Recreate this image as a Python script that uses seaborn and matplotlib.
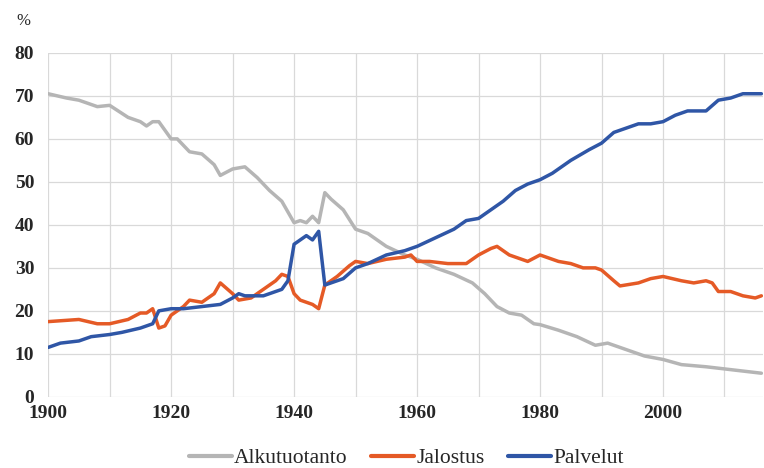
import pandas as pd
import matplotlib.pyplot as plt
import seaborn as sns

# Alkutuotanto (primary production), % share
alku_years = [1900, 1903, 1905, 1908, 1910, 1913, 1915, 1916, 1917, 1918, 1920, 1921, 1923, 1925,
              1927, 1928, 1930, 1932, 1934, 1936, 1938, 1939, 1940, 1941, 1942, 1943, 1944, 1945,
              1946, 1948, 1950, 1952, 1955, 1958, 1960, 1963, 1966, 1969, 1971, 1973, 1975, 1977,
              1979, 1980, 1983, 1986, 1989, 1991, 1994, 1997, 2000, 2003, 2007, 2010, 2013, 2016]
alku_vals = [70.5, 69.5, 69, 67.5, 67.8, 65, 64, 63, 64, 64, 60, 60, 57, 56.5,
             54, 51.5, 53, 53.5, 51, 48, 45.5, 43, 40.5, 41, 40.5, 42, 40.5, 47.5,
             46, 43.5, 39, 38, 35, 33, 32, 30, 28.5, 26.5, 24, 21, 19.5, 19,
             17, 16.8, 15.5, 14, 12, 12.5, 11, 9.5, 8.7, 7.5, 7, 6.5, 6, 5.5]

# Jalostus (manufacturing)
jalo_years = [1900, 1905, 1908, 1910, 1913, 1915, 1916, 1917, 1918, 1919, 1920, 1922, 1923, 1925,
              1927, 1928, 1930, 1931, 1933, 1935, 1937, 1938, 1939, 1940, 1941, 1943, 1944, 1945,
              1947, 1949, 1950, 1952, 1955, 1958, 1959, 1960, 1962, 1965, 1968, 1970, 1972, 1973,
              1975, 1977, 1978, 1980, 1983, 1985, 1987, 1989, 1990, 1992, 1993, 1996, 1998, 2000,
              2003, 2005, 2007, 2008, 2009, 2011, 2013, 2015, 2016]
jalo_vals = [17.5, 18, 17, 17, 18, 19.5, 19.5, 20.5, 16, 16.5, 19, 21, 22.5, 22,
             24, 26.5, 24, 22.5, 23, 25, 27, 28.5, 28, 24, 22.5, 21.5, 20.5, 26,
             28, 30.5, 31.5, 31, 32, 32.5, 33, 31.5, 31.5, 31, 31, 33, 34.5, 35,
             33, 32, 31.5, 33, 31.5, 31, 30, 30, 29.5, 27, 25.8, 26.5, 27.5, 28,
             27, 26.5, 27, 26.5, 24.5, 24.5, 23.5, 23, 23.5]

# Palvelut (services)
palv_years = [1900, 1902, 1905, 1907, 1910, 1912, 1915, 1917, 1918, 1920, 1922, 1925, 1928, 1930,
              1931, 1932, 1935, 1938, 1939, 1940, 1941, 1942, 1943, 1944, 1945, 1946, 1948, 1950,
              1952, 1955, 1958, 1960, 1963, 1966, 1968, 1970, 1972, 1974, 1976, 1978, 1980, 1982,
              1985, 1988, 1990, 1992, 1994, 1996, 1998, 2000, 2002, 2004, 2007, 2009, 2011, 2013, 2016]
palv_vals = [11.5, 12.5, 13, 14, 14.5, 15, 16, 17, 20, 20.5, 20.5, 21, 21.5, 23,
             24, 23.5, 23.5, 25, 27, 35.5, 36.5, 37.5, 36.5, 38.5, 26, 26.5, 27.5, 30,
             31, 33, 34, 35, 37, 39, 41, 41.5, 43.5, 45.5, 48, 49.5, 50.5, 52,
             55, 57.5, 59, 61.5, 62.5, 63.5, 63.5, 64, 65.5, 66.5, 66.5, 69, 69.5, 70.5, 70.5]

series = ["Alkutuotanto", "Jalostus", "Palvelut"]
colors = ["#b5b5b5", "#e55a26", "#2f56a6"]

df = pd.concat([
    pd.DataFrame({"Vuosi": alku_years, "Osuus": alku_vals, "Sektori": series[0]}),
    pd.DataFrame({"Vuosi": jalo_years, "Osuus": jalo_vals, "Sektori": series[1]}),
    pd.DataFrame({"Vuosi": palv_years, "Osuus": palv_vals, "Sektori": series[2]}),
])

sns.set_style("white")
plt.rcParams["font.family"] = ["Liberation Serif", "DejaVu Serif"]

fig = plt.figure(figsize=(7.64, 4.68), dpi=100)
ax = fig.add_axes([0.063, 0.152, 0.936, 0.735])

sns.lineplot(data=df, x="Vuosi", y="Osuus", hue="Sektori", hue_order=series,
             palette=colors, linewidth=2.5, ax=ax, legend=False)

ax.set_xlim(1900, 2016.3)
ax.set_ylim(0, 80)
ax.set_xticks(range(1900, 2011, 20))
ax.set_xticks(range(1910, 2011, 20), minor=True)
ax.set_yticks(range(0, 81, 10))
ax.grid(True, which="both", color="#d9d9d9", linewidth=0.9)
ax.set_axisbelow(True)
for s in ax.spines.values():
    s.set_visible(False)
ax.tick_params(axis="y", length=0, labelsize=14, pad=10)
ax.tick_params(axis="x", which="both", length=6, width=0.9, color="#d9d9d9",
               direction="out", labelsize=14, pad=0)
for lbl in ax.get_xticklabels() + ax.get_yticklabels():
    lbl.set_fontweight("bold")
ax.set_xlabel("")
ax.set_ylabel("")

fig.text(0.022, 0.955, "%", fontsize=12, va="center")

handles = [plt.Line2D([], [], color=c, linewidth=3) for c in colors]
fig.legend(handles, series, loc="center", bbox_to_anchor=(0.532, 0.021), ncol=3,
           frameon=False, fontsize=15.5, handlelength=2.0, handletextpad=0.1, columnspacing=1.1)

fig.savefig("out.png", dpi=100)
